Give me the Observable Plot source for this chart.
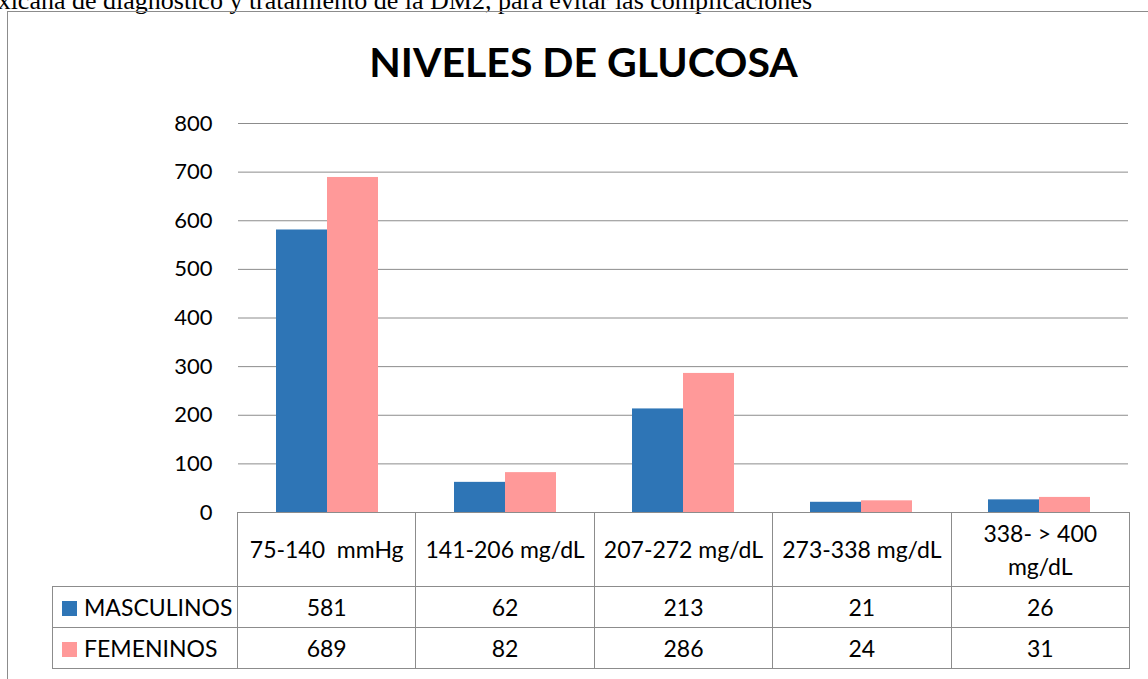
<!DOCTYPE html>
<html><head><meta charset="utf-8">
<script src="https://cdn.jsdelivr.net/npm/d3@7"></script>
<script src="https://cdn.jsdelivr.net/npm/@observablehq/plot@0.6"></script>
<style>
html,body{margin:0;padding:0;background:#fff;overflow:hidden;}
#wrap{position:relative;width:1148px;height:679px;overflow:hidden;}
#topline{position:absolute;right:336px;top:-12px;font-family:"Liberation Serif","Times New Roman",serif;font-size:26px;line-height:26px;white-space:nowrap;color:#000;}
#box{position:absolute;left:7px;top:11px;width:1200px;height:700px;border:1px solid #8c8c8c;box-sizing:border-box;}
#title{position:absolute;left:0;width:1167px;top:36px;text-align:center;font-family:Lato,sans-serif;font-weight:bold;font-size:41px;line-height:52px;color:#000;}
#chart{position:absolute;left:0;top:0;}
#tbl{position:absolute;left:52px;top:512px;border-collapse:collapse;table-layout:fixed;font-family:Lato,sans-serif;font-size:23px;color:#000;}
#tbl td{border:1px solid #8c8c8c;text-align:center;padding:0;}
#tbl td.blank{border-top:none;border-left:none;}
#tbl tr.cat td{height:73px;line-height:33px;}
#tbl tr.val td{height:40px;}
#tbl td.lab{text-align:left;padding-left:9px;white-space:nowrap;}
.sw{display:inline-block;width:15px;height:15px;margin-right:7px;vertical-align:0px;}
</style></head>
<body>
<div id="wrap">
  <div id="topline">Mexicana de diagnóstico y tratamiento de la DM2, para evitar las complicaciones</div>
  <div id="box"></div>
  <div id="chart"></div>
  <div id="title">NIVELES DE GLUCOSA</div>
  <table id="tbl"></table>
</div>
<script>
const categories = ["75-140  mmHg", "141-206 mg/dL", "207-272 mg/dL", "273-338 mg/dL", "338- > 400 mg/dL"];
const categoryLabels = ["75-140&nbsp; mmHg", "141-206 mg/dL", "207-272 mg/dL", "273-338 mg/dL", "338- &gt; 400<br>mg/dL"];
const seriesNames = ["MASCULINOS", "FEMENINOS"];
const masculinos = [581, 62, 213, 21, 26];
const femeninos = [689, 82, 286, 24, 31];
const yTicks = [0, 100, 200, 300, 400, 500, 600, 700, 800];
const colors = ["#2e75b6", "#ff9999"];

const data = [];
categories.forEach((c, i) => {
  data.push({cat: c, serie: seriesNames[0], value: masculinos[i]});
  data.push({cat: c, serie: seriesNames[1], value: femeninos[i]});
});

const chart = Plot.plot({
  width: 1148,
  height: 520,
  marginTop: 123,
  marginBottom: 8,
  marginLeft: 237,
  marginRight: 19,
  style: {fontFamily: "Lato, sans-serif", fontSize: "22px", color: "#000", background: "transparent", overflow: "visible"},
  fx: {domain: categories, padding: 0, axis: null},
  x: {domain: seriesNames, paddingInner: 0, paddingOuter: 0.745, axis: null},
  y: {domain: [0, 800], axis: null},
  color: {domain: seriesNames, range: colors},
  marks: [
    Plot.gridY(yTicks, {stroke: "#8c8c8c", strokeOpacity: 1}),
    Plot.barY(data, {fx: "cat", x: "serie", y: "value", fill: "serie"}),
    Plot.axisY(yTicks, {tickSize: 0, tickPadding: 26, line: true, label: null, stroke: "#8c8c8c", fill: "#000", fontSize: 22})
  ]
});
document.getElementById("chart").appendChild(chart);

// data table
const tbl = document.getElementById("tbl");
let html = '<colgroup><col style="width:185px">' + categories.map(() => '<col style="width:178.4px">').join("") + '</colgroup>';
html += '<tr class="cat"><td class="blank"></td>' + categoryLabels.map(l => `<td>${l}</td>`).join("") + '</tr>';
[masculinos, femeninos].forEach((vals, si) => {
  html += `<tr class="val"><td class="lab"><span class="sw" style="background:${colors[si]}"></span>${seriesNames[si]}</td>` +
    vals.map(v => `<td>${v}</td>`).join("") + '</tr>';
});
tbl.innerHTML = html;
</script>
</body></html>
